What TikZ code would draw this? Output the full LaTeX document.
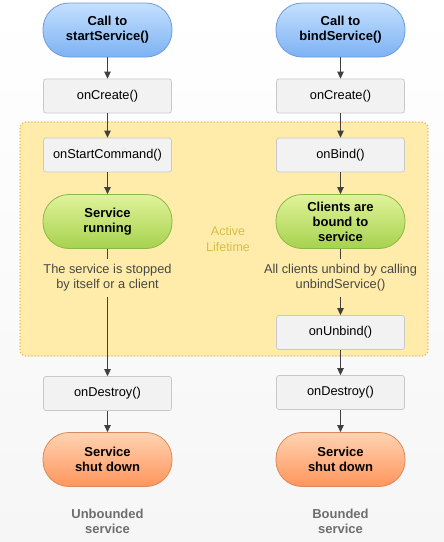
\documentclass[tikz,border=0pt]{standalone}
\usepackage{fontspec}
\setmainfont{Liberation Sans}
\usetikzlibrary{arrows.meta}
\definecolor{bluetop}{HTML}{C4E0FF}
\definecolor{bluebot}{HTML}{7DB2F3}
\definecolor{blueline}{HTML}{6C9CDC}
\definecolor{greentop}{HTML}{E0F39A}
\definecolor{greenbot}{HTML}{A6D24E}
\definecolor{greenline}{HTML}{8DB844}
\definecolor{orangetop}{HTML}{FFD3B2}
\definecolor{orangebot}{HTML}{FF955C}
\definecolor{orangeline}{HTML}{D88A5A}
\definecolor{boxfill}{HTML}{F2F2F2}
\definecolor{boxline}{HTML}{C8C8C8}
\definecolor{zonefill}{HTML}{FFECAA}
\definecolor{zoneline}{HTML}{F2B266}
\definecolor{zonetext}{HTML}{D2C048}
\definecolor{arrowc}{HTML}{404040}
\definecolor{notec}{HTML}{474747}
\definecolor{captc}{HTML}{6E6E6E}
\definecolor{bgc}{HTML}{F6F6F6}
\begin{document}
\begin{tikzpicture}[x=1pt,y=-1pt,
  pill/.style={rounded corners=26pt, minimum width=129pt, minimum height=54pt,
    align=center, inner sep=0pt, font=\bfseries\fontsize{13}{15}\selectfont, line width=0.8pt},
  startpill/.style={pill, top color=bluetop, bottom color=bluebot, draw=blueline},
  runpill/.style={pill, top color=greentop, bottom color=greenbot, draw=greenline},
  endpill/.style={pill, top color=orangetop, bottom color=orangebot, draw=orangeline},
  callbox/.style={draw=boxline, fill=boxfill, rounded corners=2.5pt, minimum width=128pt,
    minimum height=34pt, inner sep=0pt, font=\fontsize{12.8}{14}\selectfont, line width=0.7pt},
  note/.style={align=center, inner sep=0pt, inner ysep=5pt, text=notec, font=\fontsize{12.8}{15}\selectfont},
  capt/.style={align=center, text=captc, font=\bfseries\fontsize{13}{15}\selectfont},
  flow/.style={draw=arrowc, line width=1pt, -{Triangle[length=7pt,width=6.5pt]}},
  link/.style={draw=arrowc, line width=1pt}
]
\useasboundingbox (0,0) rectangle (444,542);
\shade[top color=white, bottom color=bgc] (0,0) rectangle (444,542);
\draw[zoneline, fill=zonefill, dotted, line width=1.2pt, rounded corners=6pt] (20,122) rectangle (428,356);
\node[text=zonetext, align=center, font=\fontsize{12.5}{16}\selectfont] (zone) at (228,239) {Active\\Lifetime};

% left column
\node[startpill] (s1) at (107.5,30) {Call to\\startService()};
\node[callbox] (c1) at (107.5,96) {onCreate()};
\node[callbox] (sc) at (107.5,155) {onStartCommand()};
\node[runpill] (r1) at (107.5,221.5) {Service\\running};
\node[note] (n1) at (107.5,278) {The service is stopped\\by itself or a client};
\node[callbox] (d1) at (107.5,393.5) {onDestroy()};
\node[endpill] (e1) at (107.5,459.5) {Service\\shut down};
\node[capt] (l1) at (107.5,521) {Unbounded\\service};

% right column
\node[startpill] (s2) at (340.5,30) {Call to\\bindService()};
\node[callbox] (c2) at (340.5,96) {onCreate()};
\node[callbox] (b2) at (340.5,155) {onBind()};
\node[runpill] (r2) at (340.5,221.5) {Clients are\\bound to\\service};
\node[note] (n2) at (340.5,278) {All clients unbind by calling\\unbindService()};
\node[callbox] (u2) at (340.5,332.5) {onUnbind()};
\node[callbox] (d2) at (340.5,392.5) {onDestroy()};
\node[endpill] (e2) at (340.5,459.5) {Service\\shut down};
\node[capt] (l2) at (340.5,521) {Bounded\\service};

\path[flow] (s1) -- (c1);
\path[flow] (c1) -- (sc);
\path[flow] (sc) -- (r1);
\path[link] (r1) -- (n1);
\path[flow] (n1) -- (d1);
\path[flow] (d1) -- (e1);

\path[flow] (s2) -- (c2);
\path[flow] (c2) -- (b2);
\path[flow] (b2) -- (r2);
\path[link] (r2) -- (n2);
\path[flow] (n2) -- (u2);
\path[flow] (u2) -- (d2);
\path[flow] (d2) -- (e2);
\end{tikzpicture}
\end{document}
